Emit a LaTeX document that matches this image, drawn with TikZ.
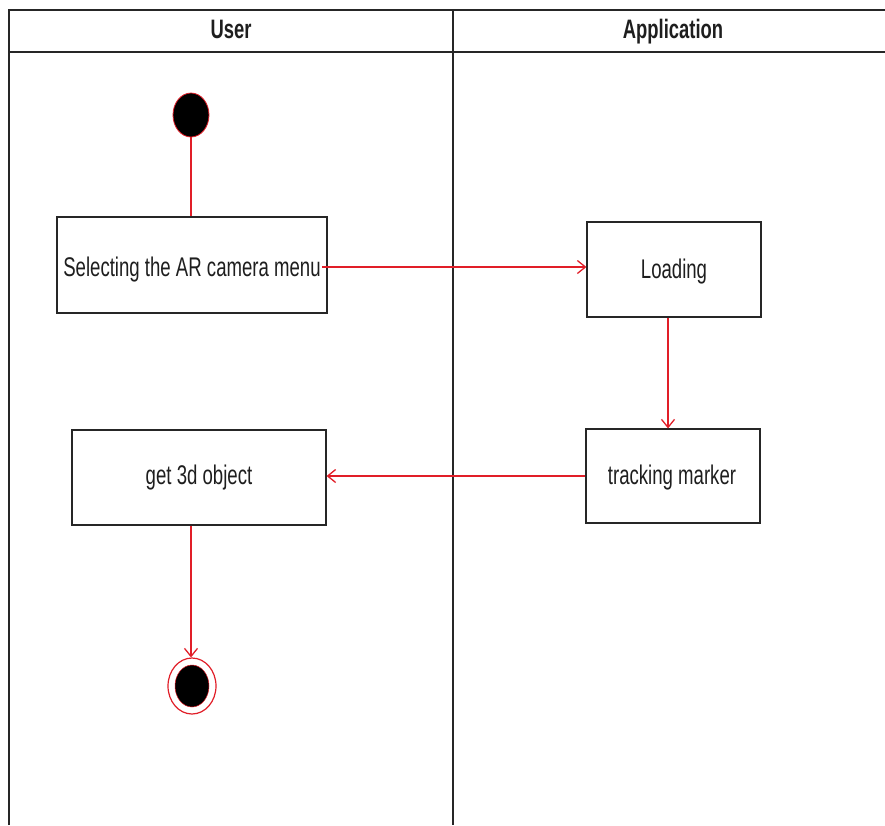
\documentclass[tikz,border=0pt]{standalone}
\usepackage{fontspec}
\setmainfont{Liberation Sans}
\usetikzlibrary{arrows.meta,shapes.geometric}
\definecolor{flow}{RGB}{225,30,40}
\definecolor{txt}{RGB}{30,30,30}
\newcommand{\stxt}[1]{\scalebox{1}[1.45]{#1}}
\begin{document}
\begin{tikzpicture}[x=1pt,y=-1pt,
  lane/.style={draw=black!85,line width=1.4pt},
  actbox/.style={draw=black!85,line width=1.2pt,rectangle,inner sep=0pt},
  boxtext/.style={anchor=base,inner sep=0pt,text=txt,font=\fontsize{18.6}{20}\selectfont},
  flowline/.style={draw=flow,line width=1.4pt},
  flowarrow/.style={flowline,-{Straight Barb[length=8pt,width=13pt,line width=1.3pt]}},
  lanetitle/.style={anchor=base,inner sep=0pt,font=\bfseries\fontsize{18.4}{20}\selectfont,text=txt}]
\useasboundingbox (0,0) rectangle (885,825);
% swimlanes
\draw[lane] (9,825) -- (9,10) -- (885,10);
\draw[lane] (9,52) -- (885,52);
\draw[lane] (453,10) -- (453,825);
\node[lanetitle] (tuser) at (231,38) {\stxt{User}};
\node[lanetitle] (tapp) at (673,38) {\stxt{Application}};
% start
\node[ellipse,fill=black,draw=flow,line width=0.8pt,minimum width=36pt,minimum height=44pt,inner sep=0pt] (start) at (191,115) {};
% boxes
\node[actbox,minimum width=270pt,minimum height=96pt] (sel) at (192,265) {};
\node[actbox,minimum width=174pt,minimum height=95pt] (load) at (674,269.5) {};
\node[actbox,minimum width=174pt,minimum height=94pt] (track) at (673,476) {};
\node[actbox,minimum width=254pt,minimum height=95pt] (get) at (199,477.5) {};
\node[boxtext] (seltxt) at (192,276) {\stxt{Selecting the AR camera menu}};
\node[boxtext] (loadtxt) at (674,278) {\stxt{Loading}};
\node[boxtext] (tracktxt) at (672,484) {\stxt{tracking marker}};
\node[boxtext] (gettxt) at (199,484) {\stxt{get 3d object}};
% end
\node[ellipse,draw=flow,line width=1.2pt,fill=white,minimum width=48pt,minimum height=56pt,inner sep=0pt] (fin) at (192,686) {};
\node[ellipse,fill=black,draw=flow,line width=0.5pt,minimum width=34pt,minimum height=42pt,inner sep=0pt] (finin) at (192,686) {};
% flows
\draw[flowline] (start.south) -- (start.south |- sel.north);
\coordinate (selout) at (322,267);
\draw[flowarrow] (selout) -- (selout -| load.west);
\draw[flowarrow] (load.south -| 668,0) -- (track.north -| 668,0);
\draw[flowarrow] (track.west) -- (get.east |- track.west);
\draw[flowarrow] (get.south -| 191,0) -- (fin.north -| 191,0);
\end{tikzpicture}
\end{document}
